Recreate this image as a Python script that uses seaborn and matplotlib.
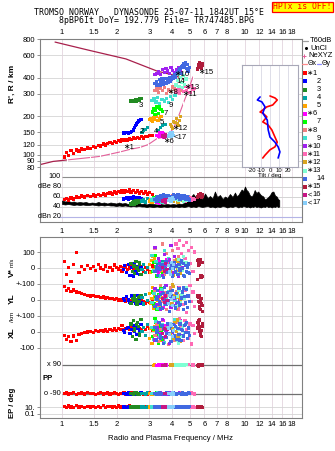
import numpy as np
import pandas as pd
import matplotlib
matplotlib.use("Agg")
import matplotlib.pyplot as plt
from matplotlib.ticker import NullLocator
from matplotlib.patches import Rectangle
import seaborn as sns

sns.set_theme(style="white")
plt.rcParams["font.family"] = ["Liberation Sans", "DejaVu Sans"]
plt.rcParams["axes.unicode_minus"] = False
plt.rcParams["text.color"] = "black"

# ---------------- scales and tick labels ----------------
freq_ticks = [1, 1.5, 2, 3, 4, 5, 6, 7, 8, 10, 12, 14, 16, 18]
freq_ticks_db = [1, 1.5, 2, 3, 4, 5, 6, 7, 8, 9, 10, 12, 14, 16, 18]
range_ticks = [80, 90, 100, 120, 150, 200, 300, 400, 600, 800]
db_ticks = [100, 80, 60, 40, 20]
db_tick_labels = ["100", "dBe 80", "60", "40", "dBn 20"]
vel_ticks = [100, 0, -100, -200, -300, -400, -500]
vel_tick_labels = ["100", "0", "+-100", "0", "+-100", "0", "-100"]
ep_ticks = [10, 0.1]
ep_tick_labels = ["10.", "0.1"]
tilt_ticks = [-20, -10, 0, 10, 20]

title_line1 = "TROMSO NORWAY   DYNASONDE 25-07-11 1842UT 15°E"
title_line2 = "8pBP6It DoY= 192.779 File= TR747485.BPG"

# ---------------- echo traces (freq MHz, range km, amplitude dB, V*, YL, XL, PP, EP) ----------------
comp_labels = ["∗1", "2", "3", "4", "5", "∗6", "7", "∗8", "9", "∗10",
               "∗11", "∗12", "∗13", "14", "∗15", "<16", "<17"]
comp_colors = ["#ff0000", "#0000ff", "#228b22", "#00a3a3", "#ffa500", "#ff00ff",
               "#00ff00", "#f08080", "#40e0d0", "#a020f0", "#ff69b4", "#daa520",
               "#7fffd4", "#4169e1", "#b01c3c", "#c71585", "#87cefa"]

c01 = dict(
    f=[1.03, 1.06, 1.09, 1.12, 1.16, 1.20, 1.24, 1.28, 1.33, 1.38,
       1.43, 1.48, 1.53, 1.58, 1.63, 1.68, 1.73, 1.78, 1.83, 1.88,
       1.93, 1.98, 2.03, 2.08, 2.13, 2.18, 2.23, 2.28, 2.33, 2.38,
       2.45, 2.52, 2.59, 2.66, 2.73, 2.80, 2.87, 2.94, 3.02, 3.12],
    r=[96, 104, 98, 108, 102, 109, 107, 111, 110, 113,
       112, 116, 114, 118, 117, 121, 119, 122, 125, 123,
       127, 125, 129, 127, 131, 129, 132, 130, 134, 131,
       135, 133, 136, 134, 138, 135, 139, 138, 141, 142],
    db=[55, 57, 54, 58, 56, 60, 59, 62, 60, 63,
        61, 64, 62, 65, 63, 66, 64, 67, 68, 66,
        70, 68, 71, 69, 72, 70, 73, 71, 74, 70,
        73, 69, 72, 68, 71, 67, 70, 66, 69, 65],
    v=[40, -40, 5, -85, 20, 95, -30, 10, -10, 15,
       -5, 8, -15, 20, 0, -8, 12, -20, 5, -12,
       18, 2, -6, 10, -18, 4, 12, -10, 0, 15,
       -8, 6, -14, -2, 10, -20, 5, -8, -25, 12],
    yl=[83, 60, 70, 55, 62, 50, 45, 40, 33, 30,
        25, 28, 20, 22, 15, 18, 12, 14, 8, 10,
        5, 8, 0, 4, -2, 2, -6, 0, -10, -4,
        -8, -12, -5, -15, -2, -10, -18, -6, -14, -3],
    xl=[-20, -45, -30, -60, -25, -55, -15, -10, -5, 0,
        5, -3, 8, 2, 10, 6, 12, 4, 15, 8,
        18, 10, 22, 14, 40, 12, 20, 25, 16, 28,
        10, 22, 30, 18, 12, 26, 15, 35, 20, 8],
    pp=[-90, -85, -92, -88, -80, -93, -89, -86, -91, -84,
        -90, -87, -94, -89, -82, -91, -88, -86, -92, -90,
        -84, -89, -93, -87, -90, -85, -92, -88, -91, -86,
        -89, -93, -87, -90, -84, -91, -88, -92, -86, -90],
    ep=[12, 6, 20, 11, 8, 25, 10, 14, 7, 18,
        11, 16, 6, 12, 9, 22, 8, 13, 15, 10,
        12, 6, 19, 11, 8, 16, 10, 13, 24, 11,
        7, 15, 10, 12, 6, 18, 11, 8, 14, 10])

c02 = dict(
    f=[2.16, 2.20, 2.25, 2.30, 2.35, 2.40, 2.45, 2.48, 2.52, 2.55, 2.58, 2.62, 2.66, 2.70],
    r=[148, 147, 149, 146, 150, 152, 156, 162, 168, 174, 179, 183, 186, 189],
    db=[56, 57, 58, 56, 59, 57, 60, 58, 55, 57, 59, 56, 58, 57],
    v=[-10, 15, -30, 20, -45, 5, -50, 25, -20, -35, 10, -5, -40, 0],
    yl=[10, -5, 20, 0, -15, 25, -10, 15, -20, 5, 30, -8, 12, -18],
    xl=[10, -5, 20, 30, -10, 15, 40, 5, 25, -15, 35, 20, 0, 45],
    pp=[-90, -88, -92, -85, -91, -89, -87, -93, -90, -86, -92, -88, -90, -84],
    ep=[10, 14, 8, 11, 16, 10, 7, 13, 11, 9, 15, 10, 12, 11])

c03 = dict(
    f=[2.38, 2.42, 2.46, 2.50, 2.54, 2.58, 2.62, 2.66, 2.70, 2.48, 2.56, 2.64],
    r=[262, 263, 265, 266, 268, 270, 271, 273, 274, 259, 262, 266],
    db=[46, 48, 50, 47, 52, 49, 53, 50, 51, 45, 48, 50],
    v=[30, -20, 10, -35, 40, 0, -15, 25, -40, 15, -5, 35],
    yl=[-20, 10, -5, 25, 0, -30, 15, -10, 30, 5, -25, 20],
    xl=[50, -30, 70, 20, -45, 60, 35, -20, 80, 10, 45, -10],
    pp=[-90, -87, -92, -89, -85, -91, -88, -93, -90, -86, -89, -92],
    ep=[10, 12, 9, 11, 13, 10, 12, 9, 11, 10, 12, 13])

c04 = dict(
    f=[2.74, 2.80, 2.86, 2.92, 3.35, 3.45, 3.55, 3.65],
    r=[150, 156, 158, 162, 155, 163, 168, 172],
    db=[52, 55, 50, 57, 53, 56, 51, 54],
    v=[-10, 20, -30, 5, 25, -15, 40, -5],
    yl=[15, -25, 35, -5, 20, -40, 10, 30],
    xl=[5, 30, -20, 45, -10, 25, -35, 15],
    pp=[-90, -88, -92, -86, -91, -89, -87, -93],
    ep=[10, 12, 9, 11, 13, 10, 12, 9])

c05 = dict(
    f=[3.00, 3.05, 3.10, 3.15, 3.20, 3.28, 3.35, 3.42, 3.48, 3.12],
    r=[188, 192, 186, 195, 190, 198, 185, 192, 200, 182],
    db=[52, 55, 50, 57, 53, 56, 51, 54, 58, 49],
    v=[20, -30, 45, -10, 60, 5, -45, 30, -20, 75],
    yl=[40, -20, 10, -50, 25, 60, -5, -35, 15, 80],
    xl=[-40, 20, -70, 10, 35, -20, 55, -10, -55, 25],
    pp=[-90, -88, -92, 85, 90, -86, -90, 92, -89, -91],
    ep=[10, 12, 9, 11, 13, 10, 12, 9, 11, 10])

c06 = dict(
    f=[3.30, 3.36, 3.42, 3.48, 3.54, 3.60, 3.66, 3.72, 3.40, 3.58],
    r=[142, 138, 145, 140, 148, 136, 144, 139, 150, 146],
    db=[50, 53, 48, 55, 51, 57, 52, 54, 49, 56],
    v=[10, -25, 40, -5, 25, -40, 15, 55, -15, 30],
    yl=[-30, 20, -10, 45, 5, -45, 30, -20, 60, 10],
    xl=[25, -35, 50, -10, 15, -50, 40, 5, -25, 70],
    pp=[88, 92, 85, 90, 94, 87, 91, 89, 86, 93],
    ep=[10, 12, 9, 11, 13, 10, 12, 9, 11, 10])

c07 = dict(
    f=[3.12, 3.18, 3.24, 3.30, 3.36, 3.42, 3.48, 3.54, 3.22, 3.40],
    r=[215, 228, 222, 236, 210, 242, 225, 218, 205, 232],
    db=[55, 58, 53, 60, 56, 52, 59, 54, 57, 61],
    v=[-20, 35, 10, -50, 60, -5, 25, -35, 80, 5],
    yl=[50, -25, 15, -60, 35, -10, 70, 0, -40, 25],
    xl=[-30, 15, 60, -15, -70, 40, 10, -45, 85, 20],
    pp=[-90, -88, -92, -86, -91, -89, -87, -93, -90, -85],
    ep=[10, 12, 9, 11, 13, 10, 12, 9, 11, 10])

c08 = dict(
    f=[3.22, 3.30, 3.38, 3.46, 3.55, 3.64, 3.73, 3.82, 3.92, 4.02, 4.12, 4.22, 4.32, 4.45],
    r=[318, 325, 305, 330, 315, 335, 300, 320, 310, 338, 325, 305, 330, 315],
    db=[56, 59, 54, 61, 57, 63, 55, 60, 58, 62, 56, 59, 54, 57],
    v=[120, -20, 60, 15, 150, -40, 90, 30, -10, 110, 45, -30, 70, 5],
    yl=[60, -40, 20, 90, -10, 45, -60, 30, 75, -25, 10, 55, -45, 25],
    xl=[-20, 45, -60, 15, 70, -35, 25, -80, 40, 5, -50, 60, -15, 35],
    pp=[-90, -88, -92, -86, -91, -89, -87, -93, -90, -85, -89, -92, -88, -90],
    ep=[10, 12, 9, 11, 13, 10, 12, 9, 11, 10, 12, 9, 11, 13])

c09 = dict(
    f=[3.10, 3.18, 3.26, 3.34, 3.42, 3.52, 3.62, 3.72, 3.82, 3.92, 4.02, 4.15],
    r=[265, 272, 258, 280, 250, 268, 262, 275, 255, 285, 270, 290],
    db=[54, 57, 52, 59, 55, 50, 58, 53, 56, 60, 54, 57],
    v=[80, -15, 40, 5, -50, 25, 110, -30, 60, -5, 35, 15],
    yl=[-15, 40, 5, -55, 25, 65, -30, 10, 50, -40, 20, -5],
    xl=[30, -45, 65, 0, -25, 45, -65, 20, 55, -10, -40, 75],
    pp=[-90, -88, -92, -86, -91, -89, -87, -93, -90, -85, -89, -92],
    ep=[10, 12, 9, 11, 13, 10, 12, 9, 11, 10, 12, 9])

c10 = dict(
    f=[3.22, 3.30, 3.38, 3.46, 3.54, 3.62, 3.70, 3.78, 3.86, 3.94, 4.02, 4.12, 4.22, 4.32, 4.42, 4.55],
    r=[420, 432, 445, 425, 460, 438, 470, 450, 428, 480, 455, 440, 465, 478, 452, 490],
    db=[55, 58, 53, 60, 56, 62, 54, 59, 57, 61, 55, 58, 63, 56, 60, 54],
    v=[130, -20, 60, 10, -45, 85, 25, -10, 50, 140, -30, 70, 15, -55, 40, 5],
    yl=[70, -30, 20, -60, 45, 5, 90, -15, 30, -45, 60, 10, -25, 80, -5, 35],
    xl=[-50, 25, 60, -15, 80, -35, 10, 45, -70, 30, -5, 55, -40, 20, 70, -20],
    pp=[-90, -88, -92, -86, -91, -89, -87, -93, -90, -85, -89, -92, -88, -90, -86, -91],
    ep=[10, 12, 9, 11, 13, 10, 12, 9, 11, 10, 12, 9, 11, 13, 10, 12])

c11 = dict(
    f=[4.20, 4.30, 4.40, 4.50, 4.60, 4.70, 4.80, 4.90, 5.00, 5.10, 5.20, 5.30],
    r=[305, 320, 300, 330, 312, 340, 318, 335, 305, 345, 325, 330],
    db=[56, 59, 54, 61, 57, 52, 60, 55, 58, 53, 57, 55],
    v=[150, 120, 170, 90, 140, 60, 160, 110, 30, 130, -20, 100],
    yl=[40, -60, 80, 10, -30, 60, -80, 25, 90, -10, 50, -40],
    xl=[60, -20, 85, 30, -55, 70, 15, -40, 50, -75, 40, -10],
    pp=[90, -88, 92, -86, 88, -89, -87, 91, -90, -85, 89, -92],
    ep=[10, 12, 9, 11, 13, 10, 12, 9, 11, 10, 12, 9])

c12 = dict(
    f=[3.90, 3.98, 4.06, 4.14, 4.22, 4.30, 4.38, 4.46, 4.02, 4.26],
    r=[172, 165, 182, 178, 192, 168, 185, 198, 160, 176],
    db=[54, 57, 52, 59, 55, 50, 58, 53, 56, 60],
    v=[-20, 30, -45, 10, 50, -10, 25, -35, 5, 40],
    yl=[60, -20, 85, 30, -50, 15, 70, -5, 95, 40],
    xl=[-10, 35, -40, 60, 5, -25, 45, -60, 20, 75],
    pp=[90, 88, 92, 86, 91, 89, 87, 93, 90, 85],
    ep=[10, 12, 9, 11, 13, 10, 12, 9, 11, 10])

c13 = dict(
    f=[4.20, 4.28, 4.36, 4.44, 4.52, 4.60, 4.68, 4.76, 4.32, 4.56],
    r=[350, 380, 340, 400, 365, 415, 355, 390, 420, 335],
    db=[55, 58, 53, 60, 56, 52, 59, 54, 57, 61],
    v=[10, -35, 55, 20, -15, 70, -50, 35, 0, 45],
    yl=[-40, 25, 60, -15, 35, -60, 10, 80, -25, 45],
    xl=[30, -50, 15, 65, -30, 40, -5, 55, -70, 20],
    pp=[90, 88, 92, 86, 91, 89, 87, 93, 90, 85],
    ep=[10, 12, 9, 11, 13, 10, 12, 9, 11, 10])

c14 = dict(
    f=[3.22, 3.28, 3.34, 3.40, 3.46, 3.52, 3.58, 3.64, 3.70, 3.76,
       3.82, 3.88, 3.94, 4.00, 4.06, 4.12, 4.18, 4.24, 4.30, 4.36,
       4.42, 4.48, 4.54, 4.60, 4.66, 4.72, 4.78, 4.84, 4.90, 4.96,
       3.30, 3.44, 3.60, 3.74, 3.90, 4.40, 4.50, 4.62, 4.75, 4.88],
    r=[360, 372, 355, 385, 368, 390, 375, 362, 395, 380,
       370, 400, 385, 410, 395, 420, 405, 430, 440, 455,
       470, 485, 500, 515, 490, 525, 470, 505, 460, 480,
       350, 345, 352, 360, 375, 450, 430, 480, 510, 445],
    db=[55, 58, 60, 53, 62, 57, 64, 59, 56, 61,
        63, 58, 55, 60, 65, 62, 57, 59, 64, 61,
        56, 60, 63, 58, 62, 55, 59, 61, 57, 54,
        52, 56, 59, 62, 60, 63, 58, 57, 60, 55],
    v=[-20, 10, -45, 30, -5, 20, -60, 5, 40, -30,
       15, -10, 25, -50, 0, 35, -25, 10, -40, 20,
       -15, 45, -5, 30, -55, 15, -20, 5, 25, -35,
       0, -10, 20, -25, 10, -5, 35, -45, 15, -30],
    yl=[-40, 20, 60, -10, 35, -55, 5, 80, -25, 45,
        -5, -70, 25, 60, -35, 15, -50, 40, -15, 70,
        -30, 10, 50, -60, 20, -20, 65, -45, 30, -10,
        5, -25, 40, -5, 55, -35, 15, 75, -15, 25],
    xl=[30, -50, 10, 60, -20, 40, -70, 15, -35, 55,
        -10, 25, -60, 5, 45, -25, 35, -45, 20, -15,
        50, -55, 10, -30, 40, -5, 60, -40, 25, -20,
        0, -40, 20, -10, 35, -50, 15, -25, 45, -5],
    pp=[-90, -88, -92, -86, -91, -89, -87, -93, -90, -85,
        -89, -92, -88, -90, -86, -91, -87, -93, -89, -90,
        -88, -92, -86, -91, -89, -87, -93, -90, -85, -89,
        -92, -88, -90, -86, -91, -89, -87, -93, -90, -88],
    ep=[10, 12, 9, 11, 13, 10, 12, 9, 11, 10,
        12, 9, 11, 13, 10, 12, 8, 11, 14, 10,
        12, 9, 11, 13, 10, 12, 9, 11, 10, 12,
        9, 11, 13, 10, 12, 9, 11, 10, 12, 9])

c15 = dict(
    f=[5.50, 5.55, 5.60, 5.65, 5.70, 5.75, 5.80, 5.85, 5.52, 5.62, 5.72, 5.82, 5.58, 5.68],
    r=[470, 490, 505, 480, 515, 495, 470, 500, 465, 520, 485, 510, 478, 498],
    db=[60, 63, 65, 61, 66, 62, 59, 64, 60, 65, 63, 61, 62, 64],
    v=[45, 30, 55, 20, -50, -60, -45, 35, -70, 25, 40, -55, 15, 50],
    yl=[20, -10, 30, -40, -60, 10, -25, -70, 25, -50, 0, -35, 15, -15],
    xl=[60, 40, 70, 30, -20, 10, -30, 50, 25, 75, -10, 35, 55, 5],
    pp=[88, 92, 85, 90, 94, 87, 91, 89, 86, 93, 90, 88, 84, 92],
    ep=[10, 12, 9, 11, 13, 10, 12, 9, 11, 10, 12, 9, 11, 13])

c16 = dict(
    f=[3.55, 3.62, 3.68, 3.75],
    r=[140, 136, 143, 138],
    db=[52, 55, 50, 54],
    v=[5, -20, 30, -10],
    yl=[10, -15, 25, -5],
    xl=[-10, 20, -30, 15],
    pp=[88, -90, 90, -88],
    ep=[10, 12, 9, 11])

c17 = dict(
    f=[3.82, 3.88, 3.95, 4.02, 4.08, 3.92],
    r=[140, 145, 138, 148, 142, 150],
    db=[53, 56, 51, 58, 55, 52],
    v=[15, -25, 35, -5, 20, -40],
    yl=[-20, 30, 5, -35, 15, 40],
    xl=[25, -15, 40, -30, 10, 50],
    pp=[-90, -88, -92, -86, -91, -89],
    ep=[10, 12, 9, 11, 13, 10])

components = [c01, c02, c03, c04, c05, c06, c07, c08, c09, c10,
              c11, c12, c13, c14, c15, c16, c17]

# trace numbers written next to each echo trace
trace_text = ["∗1", "2", "3", "4", "5", "∗6", "7", "∗8", "9", "∗10",
              "∗11", "∗12", "∗13", "14", "∗15", "<17"]
trace_text_f = [2.15, 2.64, 2.64, 3.19, 3.43, 3.58, 3.58, 3.73, 3.81, 4.11,
                4.51, 3.97, 4.62, 4.20, 5.55, 4.06]
trace_text_r = [113, 152, 244, 153, 177, 126, 209, 304, 244, 420,
                295, 159, 332, 372, 441, 135]

# model profiles
profile_f = [0.916, 1.387, 2.237, 3.30, 4.04, 4.82]
profile_r = [757, 656, 559, 450, 419, 382]
profile_low_f = [0.749, 0.893, 1.065]
profile_low_r = [83.3, 88.6, 91]
nexyz_f = [1.065, 1.42, 1.61, 1.83, 2.07, 2.35, 2.67, 2.96, 3.29, 3.73, 4.06, 4.32, 4.60, 4.90, 5.2]
nexyz_r = [91, 95, 97, 101, 105, 110, 114, 120, 133, 139, 160, 197, 251, 319, 406]

# tilt profiles
tilt_x_deg = [0, 5.5, 8, 3, -3.5, -11, -8, -3.5, -8, -2, 2, 5.5, 8, 5.5, 0, -5.5, -8]
tilt_x_km = [287, 277, 267, 244, 236, 215, 211, 197, 180, 170, 156, 137, 125, 115, 109, 99, 94]
tilt_y_deg = [-11, -14, -9, -5.5, -8, -3, -2, 0, 5.5, 9, 11, 9]
tilt_y_km = [282, 267, 258, 236, 211, 186, 156, 137, 125, 115, 105, 94]

# background noise level (dB)
noise_f = [1.00, 1.04, 1.08, 1.12, 1.16, 1.20, 1.25, 1.30, 1.35, 1.40,
           1.46, 1.52, 1.58, 1.64, 1.70, 1.77, 1.84, 1.91, 1.98, 2.05,
           2.13, 2.21, 2.29, 2.37, 2.45, 2.54, 2.63, 2.72, 2.81, 2.90,
           3.00, 3.15, 3.30, 3.45, 3.60, 3.75, 3.90, 4.05, 4.20, 4.35,
           4.50, 4.65, 4.80, 4.90, 5.05, 5.22, 5.40, 5.55, 5.68, 5.85,
           6.05, 6.25, 6.44, 6.65, 6.85, 7.05, 7.30, 7.55, 7.78, 8.00,
           8.28, 8.55, 8.82, 9.00, 9.20, 9.40, 9.59, 9.80, 10.0, 10.2,
           10.4, 10.65, 10.9, 11.1, 11.3, 11.55, 11.8, 12.2, 12.6, 12.85,
           13.1, 13.4, 13.7, 14.0, 14.3, 14.6, 14.9, 15.15, 15.4]
noise_hi = [53, 51, 52, 50, 51, 49, 50, 49, 50, 48,
            49, 48, 50, 48, 49, 47, 49, 48, 47, 49,
            47, 48, 46, 48, 47, 46, 48, 46, 47, 45,
            47, 46, 45, 46, 45, 46, 45, 46, 45, 47,
            46, 48, 55, 64, 60, 66, 58, 62, 61, 56,
            67, 58, 62, 57, 71, 60, 64, 56, 61, 58,
            66, 60, 69, 62, 64, 70, 75, 72, 81, 74,
            71, 63, 61, 66, 74, 68, 71, 64, 61, 55,
            57, 60, 64, 70, 71, 63, 61, 56, 54]
noise_lo = [46, 45, 46, 45, 44, 45, 44, 45, 44, 44,
            45, 44, 43, 44, 43, 44, 43, 43, 42, 43,
            42, 43, 42, 41, 42, 41, 42, 41, 41, 40,
            41, 40, 41, 40, 41, 40, 41, 40, 41, 40,
            41, 40, 41, 42, 40, 41, 40, 42, 41, 40,
            41, 42, 40, 41, 39, 41, 40, 42, 41, 39,
            41, 40, 42, 41, 39, 41, 40, 42, 41, 40,
            41, 39, 41, 40, 42, 40, 41, 39, 41, 40,
            42, 40, 41, 39, 41, 40, 42, 40, 41]

# ---------------- figure ----------------
W, H = 335, 451
fig = plt.figure(figsize=(W / 100, H / 100), dpi=100)
fig.patch.set_facecolor("white")


def add_box(x0, y0, x1, y1):
    return fig.add_axes([x0 / W, 1 - y1 / H, (x1 - x0) / W, (y1 - y0) / H])


F_LO, F_HI = 0.758, 20.5
FRAME = "#808080"
GRID_H = "#d4d4d4"
GRID_V = "#e3d5de"
TICK_FS = 5.5

echo = pd.concat([pd.DataFrame(c).assign(comp=i) for i, c in enumerate(components)],
                 ignore_index=True)
# stacked strips of the lower panel
YL_BASE, XL_BASE, PP_BASE = -200, -400, -696
echo["yl_pos"] = echo["yl"] + YL_BASE
echo["xl_pos"] = echo["xl"] + XL_BASE
echo["pp_pos"] = echo["pp"] + PP_BASE
echo["ep_pos"] = -890.5 + 21.5 * np.log10(echo["ep"])
palette = dict(enumerate(comp_colors))


def ep_pos(v):
    return -890.5 + 21.5 * np.log10(v)


def scatter(ax, y):
    sns.scatterplot(data=echo, x="f", y=y, hue="comp", palette=palette, marker="s",
                    s=5.5, linewidth=0, legend=False, ax=ax, zorder=3)
    ax.set_xlabel("")
    ax.set_ylabel("")


def fmt(f):
    return "1.5" if f == 1.5 else str(int(f))


def style_frame(ax):
    for sp in ax.spines.values():
        sp.set_color(FRAME)
        sp.set_linewidth(0.8)
    ax.xaxis.set_minor_locator(NullLocator())
    ax.yaxis.set_minor_locator(NullLocator())


# ---- virtual height panel ----
ax_r = add_box(40, 39, 302, 171)
ax_r.set_xscale("log")
ax_r.set_yscale("log")
ax_r.set_xlim(F_LO, F_HI)
ax_r.set_ylim(74.6, 800)
for r in range_ticks:
    ax_r.axhline(r, color=GRID_H, lw=0.6, zorder=0)
for f in freq_ticks:
    ax_r.axvline(f, color=GRID_V, lw=0.6, zorder=0)
sns.lineplot(x=profile_f, y=profile_r, sort=False, estimator=None, color="#a8204c",
             lw=0.9, ax=ax_r)
sns.lineplot(x=profile_low_f, y=profile_low_r, sort=False, estimator=None,
             color="#a8204c", lw=0.9, ax=ax_r)
sns.lineplot(x=nexyz_f, y=nexyz_r, sort=False, estimator=None, color="#e4609a",
             lw=0.8, marker="|", markersize=3, markeredgewidth=0.8, ax=ax_r)
scatter(ax_r, "r")
for t, f, r in zip(trace_text, trace_text_f, trace_text_r):
    ax_r.text(f, r, t, fontsize=5.6, ha="left", va="center", color="black", zorder=5)
style_frame(ax_r)
ax_r.spines["bottom"].set_visible(False)
ax_r.set_xticks(freq_ticks, [fmt(f) for f in freq_ticks])
ax_r.xaxis.tick_top()
ax_r.tick_params(axis="x", length=0, pad=2, labelsize=TICK_FS, labelcolor="black")
ax_r.set_yticks(range_ticks, [str(r) for r in range_ticks])
ax_r.yaxis.set_minor_locator(NullLocator())
ax_r.tick_params(axis="y", left=True, length=2, width=0.6, color=FRAME, pad=1.5,
                 labelsize=TICK_FS, labelcolor="black")

# ---- amplitude panel ----
ax_db = add_box(40, 171, 302, 222)
ax_db.set_xscale("log")
ax_db.set_xlim(F_LO, F_HI)
ax_db.set_ylim(10, 112)
for f in freq_ticks:
    ax_db.axvline(f, color=GRID_V, lw=0.5, zorder=0)
ax_db.hlines(100, 1.0, F_HI, color="#8c8c8c", lw=0.8, zorder=1)
ax_db.hlines([80, 60, 40], 0.955, F_HI, color=GRID_H, lw=0.7, zorder=1)
ax_db.hlines(20, 0.955, F_HI, color="#b4b4e6", lw=0.8, zorder=1)
ax_db.fill_between(noise_f, noise_lo, noise_hi, color="black", lw=0.5, zorder=2)
scatter(ax_db, "db")
ytr = ax_db.get_yaxis_transform()
for v, lab in zip(db_ticks, db_tick_labels):
    ax_db.text((61 - 40) / 262, v, lab, transform=ytr, ha="right", va="center",
               fontsize=5.2, color="black")
style_frame(ax_db)
ax_db.spines["top"].set_visible(False)
ax_db.set_yticks([])
ax_db.set_xticks(freq_ticks_db, [fmt(f) for f in freq_ticks_db])
ax_db.xaxis.set_minor_locator(NullLocator())
ax_db.tick_params(axis="x", length=0, pad=4.3, labelsize=TICK_FS, labelcolor="black")

# ---- drift / position / polarization panel ----
ax_lo = add_box(40, 237, 302, 418)
ax_lo.set_xscale("log")
ax_lo.set_xlim(F_LO, F_HI)
ax_lo.set_ylim(-937.5, 193.75)
for f in freq_ticks:
    ax_lo.axvline(f, color=GRID_V, lw=0.6, zorder=0)
for v in vel_ticks:
    ax_lo.axhline(v, color=GRID_H, lw=0.6, zorder=0)
for e in ep_ticks:
    ax_lo.axhline(ep_pos(e), color=GRID_H, lw=0.6, zorder=0)
ax_lo.hlines([90 + PP_BASE, -90 + PP_BASE], 1.0, F_HI, color="#707070", lw=0.9, zorder=1)
scatter(ax_lo, "v")
scatter(ax_lo, "yl_pos")
scatter(ax_lo, "xl_pos")
scatter(ax_lo, "pp_pos")
scatter(ax_lo, "ep_pos")
ax_lo.text(0.99, 90 + PP_BASE, "x 90", ha="right", va="center", fontsize=5.3)
ax_lo.text(0.99, -90 + PP_BASE, "o -90", ha="right", va="center", fontsize=5.3)
ax_lo.text(0.778, -687.5, "PP", ha="left", va="center", fontsize=5.6, fontweight="bold")
style_frame(ax_lo)
ax_lo.set_yticks(vel_ticks + [ep_pos(e) for e in ep_ticks],
                 vel_tick_labels + ep_tick_labels)
ax_lo.yaxis.set_minor_locator(NullLocator())
ax_lo.tick_params(axis="y", left=True, length=2, width=0.6, color=FRAME, pad=1.5,
                  labelsize=TICK_FS, labelcolor="black")
ax_lo.set_xticks(freq_ticks, [fmt(f) for f in freq_ticks])
ax_lo.xaxis.set_minor_locator(NullLocator())
ax_lo.tick_params(axis="x", length=0, pad=1.8, labelsize=TICK_FS, labelcolor="black")

# ---- tilt inset ----
ax_t = add_box(242, 65, 298, 167)
ax_t.set_facecolor("white")
ax_t.set_yscale("log")
ax_t.set_ylim(80, 501)
ax_t.set_xlim(-31, 31)
for d in tilt_ticks:
    ax_t.axvline(d, color="#d8d8e4", lw=0.6, zorder=0)
sns.lineplot(x=tilt_x_deg, y=tilt_x_km, sort=False, estimator=None, color="#ff0000",
             lw=1.2, ax=ax_t)
sns.lineplot(x=tilt_y_deg, y=tilt_y_km, sort=False, estimator=None, color="#0000ff",
             lw=1.2, ax=ax_t)
for sp in ax_t.spines.values():
    sp.set_color("#a8a8b8")
    sp.set_linewidth(0.8)
ax_t.set_yticks([])
ax_t.yaxis.set_minor_locator(NullLocator())
ax_t.set_xticks(tilt_ticks, [str(d) for d in tilt_ticks])
ax_t.tick_params(axis="x", length=0, pad=0.8, labelsize=4.2, labelcolor="black")
ax_t.set_xlabel("Tilt / deg", fontsize=4.4, labelpad=0, color="black")
ax_t.set_ylabel("")

# ---- header, side labels and key ----
ax_ov = fig.add_axes([0, 0, 1, 1])
ax_ov.set_xlim(0, W)
ax_ov.set_ylim(H, 0)
ax_ov.axis("off")
mono = ["DejaVu Sans Mono"]
ax_ov.text(149, 12.3, title_line1, family=mono, fontsize=5.95, ha="center", va="center")
ax_ov.text(156.7, 20.7, title_line2, family=mono, fontsize=5.95, ha="center", va="center")
ax_ov.add_patch(Rectangle((271.7, 1.7), 61.6, 10.2, facecolor="#ffff00",
                          edgecolor="#ff0000", lw=0.9))
ax_ov.text(302.5, 6.9, "HPTx is OFF!", family=mono, fontsize=5.9, color="#ff0000",
           ha="center", va="center")

ax_ov.text(12.5, 84, "R', R / km", rotation=90, fontsize=6, fontweight="bold",
           ha="center", va="center")
ax_ov.text(12, 273, "V*", rotation=90, fontsize=6, fontweight="bold", ha="center", va="center")
ax_ov.text(12, 262.5, "m/s", rotation=90, fontsize=4.2, ha="center", va="center")
ax_ov.text(12, 299, "YL", rotation=90, fontsize=6, fontweight="bold", ha="center", va="center")
ax_ov.text(12, 317, "/km", rotation=90, fontsize=4.6, ha="center", va="center")
ax_ov.text(12, 333, "XL", rotation=90, fontsize=6, fontweight="bold", ha="center", va="center")
ax_ov.text(12, 403, "EP / deg", rotation=90, fontsize=5.6, fontweight="bold",
           ha="center", va="center")
ax_ov.text(170, 439, "Radio and Plasma Frequency / MHz", fontsize=5.6, ha="center",
           va="center")

KEY_FS = 5.4
ax_ov.plot([303, 308], [41, 41], color="#a0a0a0", lw=0.9)
ax_ov.text(310, 41, "T60dB", fontsize=KEY_FS, va="center")
ax_ov.plot([305.5], [48], marker="o", ms=1.2, color="black", lw=0)
ax_ov.text(310, 48, "UnCl", fontsize=KEY_FS, va="center")
ax_ov.plot([303.5], [55.5], marker="+", ms=3.5, mew=0.7, color="#e4609a", lw=0)
ax_ov.text(308, 55.5, "NeXYZ", fontsize=KEY_FS, va="center")
ax_ov.plot([302, 306.5], [63.5, 63.5], color="#ff8c8c", lw=0.9)
ax_ov.text(307.2, 63.5, "Θx", fontsize=5.0, va="center")
ax_ov.plot([316.5, 320.5], [63.5, 63.5], color="#8c8cff", lw=0.9)
ax_ov.text(321.3, 63.5, "Θy", fontsize=5.0, va="center")
for i, (lab, col) in enumerate(zip(comp_labels, comp_colors)):
    y = 73.3 + 8.1 * i
    ax_ov.scatter([304.5], [y], marker="s", s=7, color=col, linewidths=0)
    if lab[0] in "∗<":
        ax_ov.text(310.2, y, lab[0], fontsize=KEY_FS, ha="center", va="center")
        ax_ov.text(312.8, y, lab[1:], fontsize=KEY_FS, ha="left", va="center")
    else:
        ax_ov.text(316.5, y, lab, fontsize=KEY_FS, ha="left", va="center")

fig.savefig("out.png", dpi=100, facecolor="white")
